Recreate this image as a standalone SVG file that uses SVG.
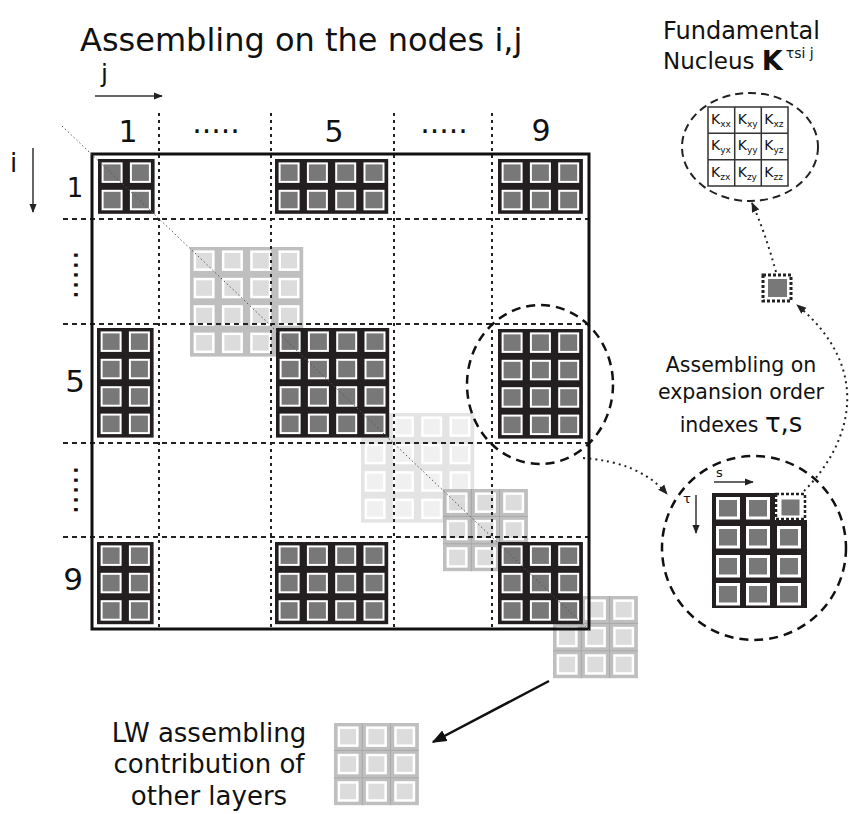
<svg xmlns="http://www.w3.org/2000/svg" xmlns:xlink="http://www.w3.org/1999/xlink" width="849" height="814" viewBox="0 0 849 814">
<style>
text{font-family:"DejaVu Sans","Liberation Sans",sans-serif;fill:#111}
.blk{fill:#231f20}
.vg{stroke:#222;stroke-width:2;stroke-dasharray:3 4;fill:none}
.hg{stroke:#222;stroke-width:2;stroke-dasharray:5 4;fill:none}
.circ{fill:none;stroke:#111;stroke-width:2.5;stroke-dasharray:9 6}
.dot{fill:none;stroke:#222;stroke-width:2;stroke-dasharray:2 4}
.thin{stroke:#333;stroke-width:1.5;fill:none}
.k{font-size:14px}
.sub{font-size:9px}
.gbg{fill:#b5b5b5}
.glines{stroke:#9a9a9a;stroke-width:1;fill:none}
</style>
<defs>
<marker id="ah" viewBox="0 0 10 10" refX="9" refY="5" markerWidth="6" markerHeight="6" orient="auto" markerUnits="strokeWidth"><path d="M0,1 L10,5 L0,9 Z" fill="#222"/></marker>
<marker id="ahd" viewBox="0 0 10 10" refX="9" refY="5" markerWidth="5" markerHeight="5" orient="auto" markerUnits="strokeWidth"><path d="M0,1 L10,5 L0,9 Z" fill="#222"/></marker>
<marker id="ahb" viewBox="0 0 10 10" refX="9" refY="5" markerWidth="6" markerHeight="6" orient="auto" markerUnits="strokeWidth"><path d="M0,1 L10,5 L0,9 Z" fill="#111"/></marker>
<g id="dc"><rect width="21" height="20.5" fill="#fff"/><rect x="2" y="2" width="17" height="16.5" fill="#787878"/></g>
<g id="d2"><use href="#dc" x="3.6"/><use href="#dc" x="31.9"/></g>
<g id="d3"><use href="#d2"/><use href="#dc" x="60.2"/></g>
<g id="d4"><use href="#d3"/><use href="#dc" x="88.5"/></g>
<g id="lc"><rect width="21" height="20.5" fill="#fff"/><rect x="2.5" y="2.5" width="16" height="15.5" fill="#d6d6d6"/></g>
<g id="l3"><use href="#lc" x="3.6"/><use href="#lc" x="31.9"/><use href="#lc" x="60.2"/></g>
<g id="l4"><use href="#l3"/><use href="#lc" x="88.5"/></g>
<g id="g44"><rect class="gbg" width="113.2" height="109.6"/><use href="#l4" y="3.4"/><use href="#l4" y="30.8"/><use href="#l4" y="58.2"/><use href="#l4" y="85.6"/></g>
<g id="g33"><rect class="gbg" width="84.9" height="82.2"/><path class="glines" d="M28.3 0V82.2M56.6 0V82.2M0 27.4H84.9M0 54.8H84.9"/><use href="#l3" y="3.4"/><use href="#l3" y="30.8"/><use href="#l3" y="58.2"/></g>
<g id="zc"><rect width="24" height="22.5" fill="#fff"/><rect x="3" y="3" width="18" height="16.5" fill="#787878"/></g>
</defs>
<rect width="849" height="814" fill="#fff"/>

<!-- titles and labels -->
<text x="80" y="51" font-size="32">Assembling on the nodes i,j</text>
<g id="axis-j"><text x="101" y="82" font-size="25">j</text><line class="thin" x1="95" y1="96" x2="162" y2="96" marker-end="url(#ah)"/></g>
<g id="axis-i"><text x="10" y="172" font-size="26">i</text><line class="thin" x1="33" y1="148" x2="33" y2="212" marker-end="url(#ah)"/></g>

<g id="col-labels" font-size="30" text-anchor="middle">
<text x="128" y="142">1</text>
<text x="216" y="133">.....</text>
<text x="334" y="142">5</text>
<text x="444" y="133">.....</text>
<text x="541" y="141">9</text>
</g>
<g id="row-labels" text-anchor="middle">
<text x="75" y="197" font-size="26">1</text>
<text transform="translate(74,275) rotate(90)" font-size="31">.....</text>
<text x="75" y="392" font-size="31">5</text>
<text transform="translate(74,490) rotate(90)" font-size="31">.....</text>
<text x="73" y="590" font-size="31">9</text>
</g>

<!-- other layer contributions (light) -->
<use id="gA" href="#g44" x="190" y="247" opacity="0.85"/>
<use id="gB" href="#g44" x="361" y="413" opacity="0.35"/>
<use id="gC" href="#g33" x="443" y="489" opacity="0.85"/>
<use id="gD" href="#g33" x="553" y="596" opacity="0.85"/>

<!-- grid lines -->
<g id="grid">
<path class="vg" d="M159 113V629M271 113V629M394 113V629M492 113V629"/>
<path class="hg" d="M63 219H589M63 324H589M63 443H589M63 537H589"/>
</g>
<rect id="frame" x="92" y="154" width="497" height="475" fill="none" stroke="#111" stroke-width="3"/>

<!-- dark node blocks -->
<g id="b11" transform="translate(98,159)"><rect class="blk" width="56.6" height="54.8"/><use href="#d2" y="3.4"/><use href="#d2" y="30.8"/></g>
<g id="b15" transform="translate(275,159)"><rect class="blk" width="113.2" height="54.8"/><use href="#d4" y="3.4"/><use href="#d4" y="30.8"/></g>
<g id="b19" transform="translate(498,159)"><rect class="blk" width="84.9" height="54.8"/><use href="#d3" y="3.4"/><use href="#d3" y="30.8"/></g>
<g id="b51" transform="translate(97,328)"><rect class="blk" width="56.6" height="109.6"/><use href="#d2" y="3.4"/><use href="#d2" y="30.8"/><use href="#d2" y="58.2"/><use href="#d2" y="85.6"/></g>
<g id="b55" transform="translate(276,328)"><rect class="blk" width="113.2" height="109.6"/><use href="#d4" y="3.4"/><use href="#d4" y="30.8"/><use href="#d4" y="58.2"/><use href="#d4" y="85.6"/></g>
<g id="b59" transform="translate(498,329)"><rect class="blk" width="84.9" height="109.6"/><use href="#d3" y="3.4"/><use href="#d3" y="30.8"/><use href="#d3" y="58.2"/><use href="#d3" y="85.6"/></g>
<g id="b91" transform="translate(97,542)"><rect class="blk" width="56.6" height="82.2"/><use href="#d2" y="3.4"/><use href="#d2" y="30.8"/><use href="#d2" y="58.2"/></g>
<g id="b95" transform="translate(275,542)"><rect class="blk" width="113.2" height="82.2"/><use href="#d4" y="3.4"/><use href="#d4" y="30.8"/><use href="#d4" y="58.2"/></g>
<g id="b99" transform="translate(498,542)"><rect class="blk" width="84.9" height="82.2"/><use href="#d3" y="3.4"/><use href="#d3" y="30.8"/><use href="#d3" y="58.2"/></g>

<line id="diagonal" x1="62" y1="126" x2="589" y2="630" stroke="#555" stroke-width="1" stroke-dasharray="1.5 2.5"/>

<ellipse id="focus" class="circ" cx="540" cy="384.5" rx="73" ry="79.5"/>

<!-- zoomed block -->
<g id="zoom">
<circle class="circ" cx="754" cy="548" r="92"/>
<text x="716" y="477" font-size="13">s</text>
<line class="thin" x1="714" y1="482" x2="753" y2="482" marker-end="url(#ah)"/>
<text x="683" y="503" font-size="13">τ</text>
<line class="thin" x1="696" y1="495" x2="696" y2="533" marker-end="url(#ah)"/>
<path class="blk" d="M712 493H775V520H807V608H712Z"/>
<use href="#zc" x="716" y="497"/><use href="#zc" x="746" y="497"/>
<use href="#zc" x="716" y="526"/><use href="#zc" x="746" y="526"/><use href="#zc" x="777" y="526"/>
<use href="#zc" x="716" y="555"/><use href="#zc" x="746" y="555"/><use href="#zc" x="777" y="555"/>
<use href="#zc" x="716" y="583"/><use href="#zc" x="746" y="583"/><use href="#zc" x="777" y="583"/>
<rect x="776" y="494" width="29" height="25" fill="#fff" stroke="#222" stroke-width="2.5" stroke-dasharray="3 2"/>
<rect x="781.5" y="499.5" width="18" height="16" fill="#787878"/>
</g>

<g id="small-entry">
<rect x="763" y="275" width="28" height="26" fill="#fff" stroke="#222" stroke-width="3" stroke-dasharray="3 2"/>
<rect x="768" y="279" width="19" height="18" fill="#787878"/>
</g>

<g id="right-label" font-size="20.5" text-anchor="middle">
<text x="741" y="372">Assembling on</text>
<text x="741" y="399">expansion order</text>
<text x="741" y="432">indexes <tspan font-size="26">τ,s</tspan></text>
</g>

<!-- fundamental nucleus -->
<g id="nucleus">
<text x="663" y="39" font-size="24">Fundamental</text>
<text x="663" y="69" font-size="23">Nucleus <tspan font-weight="bold" font-size="27" dy="1">K</tspan><tspan font-size="14" dx="3" dy="-12">τsi j</tspan></text>
<ellipse cx="750" cy="147" rx="68" ry="54" fill="none" stroke="#222" stroke-width="2" stroke-dasharray="8 5"/>
<rect x="708" y="107" width="80" height="79" fill="#fff" stroke="#333" stroke-width="1.5"/>
<path d="M734.7 107V186M761.3 107V186M708 133.3H788M708 159.7H788" stroke="#333" stroke-width="1.5"/>
<text class="k" x="711" y="124">K<tspan class="sub" dy="3">xx</tspan></text>
<text class="k" x="737.7" y="124">K<tspan class="sub" dy="3">xy</tspan></text>
<text class="k" x="764.3" y="124">K<tspan class="sub" dy="3">xz</tspan></text>
<text class="k" x="711" y="150.3">K<tspan class="sub" dy="3">yx</tspan></text>
<text class="k" x="737.7" y="150.3">K<tspan class="sub" dy="3">yy</tspan></text>
<text class="k" x="764.3" y="150.3">K<tspan class="sub" dy="3">yz</tspan></text>
<text class="k" x="711" y="176.7">K<tspan class="sub" dy="3">zx</tspan></text>
<text class="k" x="737.7" y="176.7">K<tspan class="sub" dy="3">zy</tspan></text>
<text class="k" x="764.3" y="176.7">K<tspan class="sub" dy="3">zz</tspan></text>
</g>

<!-- LW contribution -->
<use id="gE" href="#g33" x="334" y="723" opacity="0.85"/>
<g id="lw-label" font-size="26" text-anchor="middle">
<text x="209" y="742">LW assembling</text>
<text x="209" y="773">contribution of</text>
<text x="209" y="805">other layers</text>
</g>

<!-- connectors -->
<g id="connectors">
<path class="dot" d="M583 458 Q640 462 667 494" marker-end="url(#ahd)"/>
<path class="dot" d="M804 491 C850 445 875 370 797 305" marker-end="url(#ahd)"/>
<path class="dot" d="M776 272 Q765 232 752 203" marker-end="url(#ahd)"/>
<line x1="549" y1="681" x2="433" y2="742" stroke="#111" stroke-width="2.5" marker-end="url(#ahb)"/>
</g>
</svg>
